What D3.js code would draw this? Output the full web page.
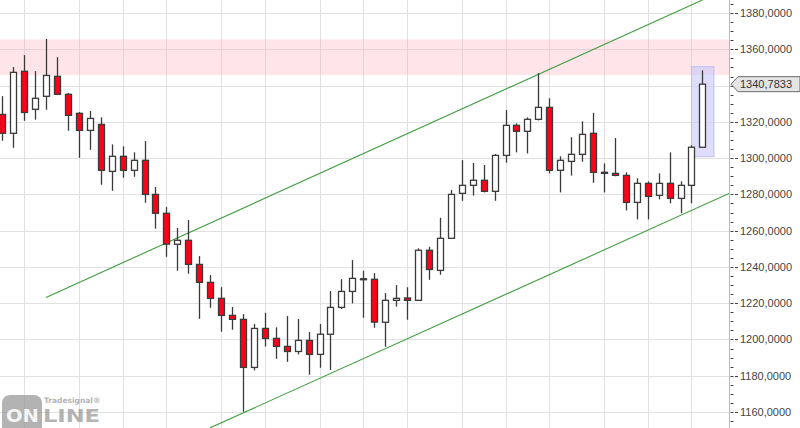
<!DOCTYPE html>
<html><head><meta charset="utf-8">
<script src="https://cdn.jsdelivr.net/npm/d3@7"></script>
<style>html,body{margin:0;padding:0;background:#fff;overflow:hidden}</style>
</head><body><svg id="c" width="800" height="428"></svg>
<script>
// ---- data ----
const openV  = [1324.1,1313.7,1347.9,1326.9,1334.1,1345.1,1335.2,1324.7,1315.3,1318.6,1292.7,1301.0,1293.3,1298.8,1280.0,1269.6,1252.5,1254.7,1241.4,1231.5,1222.7,1213.3,1211.1,1184.6,1206.1,1200.6,1196.2,1193.4,1199.5,1191.8,1202.9,1217.7,1226.5,1233.2,1233.2,1209.5,1221.6,1222.9,1221.6,1249.2,1238.1,1255.8,1280.6,1285.0,1287.8,1281.7,1301.5,1318.1,1314.8,1321.4,1328.0,1293.3,1298.2,1302.1,1313.7,1292.2,1291.6,1290.5,1275.6,1286.1,1279.5,1286.1,1277.8,1285.0,1306.0];
const highV  = [1334.2,1350.2,1356.8,1348.0,1365.7,1355.7,1335.9,1325.4,1326.0,1322.5,1307.6,1306.5,1303.2,1309.4,1284.1,1273.0,1261.5,1265.9,1246.0,1235.5,1228.9,1217.9,1214.0,1208.5,1214.7,1206.7,1212.9,1211.3,1204.1,1208.5,1226.7,1233.3,1243.8,1237.9,1236.6,1225.6,1230.0,1228.8,1250.3,1251.1,1267.1,1282.4,1298.9,1297.3,1296.2,1302.3,1326.5,1319.2,1322.5,1346.9,1333.0,1301.0,1311.5,1320.3,1325.0,1297.1,1311.1,1292.2,1288.9,1287.2,1291.6,1303.2,1287.2,1307.1,1348.4];
const lowV   = [1309.6,1305.7,1320.6,1321.2,1326.7,1335.0,1315.1,1300.2,1304.6,1285.3,1282.0,1289.2,1289.7,1275.4,1261.1,1245.6,1237.9,1236.3,1211.4,1217.5,1204.3,1205.4,1160.2,1183.0,1196.1,1189.4,1187.7,1191.8,1180.6,1184.4,1183.2,1216.8,1219.9,1212.0,1206.5,1196.0,1218.1,1210.9,1221.4,1232.9,1235.7,1255.5,1276.5,1279.3,1281.1,1276.5,1297.5,1303.2,1302.6,1320.8,1291.6,1281.1,1290.4,1298.0,1286.4,1281.1,1290.0,1271.2,1266.2,1266.2,1277.3,1275.1,1269.6,1275.1,1305.8];
const closeV = [1313.7,1347.3,1325.2,1333.0,1345.6,1335.2,1323.6,1315.3,1321.9,1293.3,1301.0,1293.3,1298.8,1280.0,1269.6,1252.6,1254.7,1241.4,1231.5,1222.7,1213.3,1211.1,1184.6,1206.1,1200.6,1196.2,1193.4,1199.5,1191.8,1202.9,1217.7,1226.5,1233.7,1233.5,1209.6,1221.6,1222.7,1221.6,1249.2,1238.6,1255.8,1280.0,1285.0,1287.8,1281.7,1301.5,1318.1,1314.8,1321.4,1328.0,1293.3,1298.8,1302.1,1313.1,1292.2,1291.6,1290.5,1275.6,1286.1,1278.9,1286.1,1277.8,1285.0,1306.0,1340.7833];
const lastPrice = 1340.7833;
const gridIdx = [2,7,11,15,20,24,29,33,37,42,46,50,55,59,63];
const yTickMajor = [1160,1180,1200,1220,1240,1260,1280,1300,1320,1340,1360,1380];
const resistBand = [1345.8, 1365.5];
const upperChannel = [[4,1223.2],[64,1387.2]];
const lowerChannel = [[19,1151.3],[66.43,1280.5]];
const highlightIdx = [63, 65.05];
const highlightVal = [1300.8, 1350.4];

// ---- layout ----
const W = 800, H = 428, plotW = 729;
const svg = d3.select("#c");
const x = d3.scaleLinear().domain([-0.21, 66.43]).range([0, plotW]);
const y = d3.scaleLinear().domain([1151.2, 1387.2]).range([H, 0]);

svg.append("defs").append("clipPath").attr("id","clip")
  .append("rect").attr("x",0).attr("y",0).attr("width",plotW).attr("height",H);
const plot = svg.append("g").attr("clip-path","url(#clip)");

// grid
plot.append("g").selectAll("line").data(yTickMajor).join("line")
  .attr("x1",0).attr("x2",plotW)
  .attr("y1",d=>Math.round(y(d))+0.5).attr("y2",d=>Math.round(y(d))+0.5)
  .attr("stroke","#e1e1e1").attr("stroke-width",1);
plot.append("g").selectAll("line").data(gridIdx).join("line")
  .attr("y1",0).attr("y2",H)
  .attr("x1",d=>Math.round(x(d))+0.5).attr("x2",d=>Math.round(x(d))+0.5)
  .attr("stroke","#e1e1e1").attr("stroke-width",1);

// resistance band
plot.append("rect").attr("x",0).attr("width",plotW)
  .attr("y",y(resistBand[1])).attr("height",y(resistBand[0])-y(resistBand[1]))
  .attr("fill","rgb(255,170,185)").attr("fill-opacity",0.3);

// highlight rect
plot.append("rect")
  .attr("x",x(highlightIdx[0])).attr("width",x(highlightIdx[1])-x(highlightIdx[0]))
  .attr("y",y(highlightVal[1])).attr("height",y(highlightVal[0])-y(highlightVal[1]))
  .attr("fill","rgb(200,200,250)").attr("fill-opacity",0.6)
  .attr("stroke","rgb(190,190,240)").attr("stroke-width",1);

// channel lines
const line = d3.line().x(d=>x(d[0])).y(d=>y(d[1]));
[upperChannel, lowerChannel].forEach(c=>{
  plot.append("path").attr("d",line(c)).attr("fill","none")
    .attr("stroke","#3f9e3f").attr("stroke-width",1.1);
});

// candles
const data = openV.map((o,i)=>({i,o,h:highV[i],l:lowV[i],c:closeV[i]}));
const cg = plot.append("g").selectAll("g").data(data).join("g");
cg.append("line")
  .attr("x1",d=>Math.round(x(d.i))+0.5).attr("x2",d=>Math.round(x(d.i))+0.5)
  .attr("y1",d=>y(d.h)).attr("y2",d=>y(d.l))
  .attr("stroke","#3a3a3a").attr("stroke-width",1.3);
cg.append("rect")
  .attr("x",d=>Math.round(x(d.i))-2.5).attr("width",6)
  .attr("y",d=>y(Math.max(d.o,d.c)))
  .attr("height",d=>Math.max(1, Math.abs(y(d.o)-y(d.c))))
  .attr("fill",d=>d.c<d.o?"#ff0019":"#ffffff")
  .attr("stroke","#3a3a3a").attr("stroke-width",1.3);

// right axis
const ax = svg.append("g");
ax.append("line").attr("x1",729.5).attr("x2",729.5).attr("y1",0).attr("y2",H)
  .attr("stroke","#e3a5a5").attr("stroke-width",1);
const minor = d3.range(1150, 1390, 5);
ax.selectAll("line.mn").data(minor).join("line").attr("class","mn")
  .attr("x1",730.5).attr("x2",733.5)
  .attr("y1",d=>Math.round(y(d))+0.5).attr("y2",d=>Math.round(y(d))+0.5)
  .attr("stroke","#444");
ax.selectAll("line.mj").data(yTickMajor).join("line").attr("class","mj")
  .attr("x1",735).attr("x2",738)
  .attr("y1",d=>Math.round(y(d))+0.5).attr("y2",d=>Math.round(y(d))+0.5)
  .attr("stroke","#444");
const fmt = d => d3.format(".4f")(d).replace(".", ",");
ax.selectAll("text").data(yTickMajor.filter(d=>d!==1340)).join("text")
  .attr("x",740).attr("y",d=>y(d)).attr("dy","0.36em")
  .attr("font-family","Liberation Sans, Arial, sans-serif").attr("font-size",11)
  .attr("fill","#444").text(fmt);

// last price badge
const py = y(lastPrice);
ax.append("path")
  .attr("d",`M731,${py} L738,${py-7.5} L800,${py-7.5} L800,${py+7.5} L738,${py+7.5} Z`)
  .attr("fill","#e4e4e4").attr("stroke","#6a6a6a").attr("stroke-width",1);
ax.append("text").attr("x",740).attr("y",py).attr("dy","0.36em")
  .attr("font-family","Liberation Sans, Arial, sans-serif").attr("font-size",11)
  .attr("fill","#333").text(fmt(lastPrice));

// watermark
const wm = svg.append("g").attr("opacity",0.75);
wm.append("rect").attr("x",2).attr("y",395).attr("width",40).attr("height",40).attr("rx",8)
  .attr("fill","#9a9a9a");
wm.append("text").attr("x",6).attr("y",422)
  .attr("font-family","DejaVu Sans, sans-serif").attr("font-weight","bold").attr("font-size",17)
  .attr("textLength",33).attr("lengthAdjust","spacingAndGlyphs")
  .attr("fill","#f2f2f2").text("ON");
wm.append("text").attr("x",43).attr("y",422)
  .attr("font-family","DejaVu Sans, sans-serif").attr("font-weight","bold").attr("font-size",17)
  .attr("textLength",57).attr("lengthAdjust","spacingAndGlyphs")
  .attr("fill","#9a9a9a").text("LINE");
wm.append("text").attr("x",44).attr("y",403)
  .attr("font-family","DejaVu Sans, sans-serif").attr("font-weight","bold").attr("font-size",7.5)
  .attr("fill","#9a9a9a").text("Tradesignal®");
</script></body></html>
